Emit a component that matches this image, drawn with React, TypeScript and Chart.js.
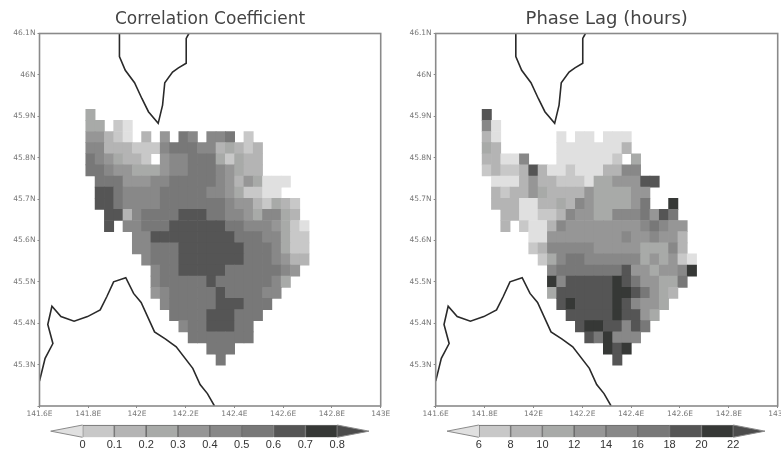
import React, { useEffect, useRef } from "react";
import { Chart, registerables } from "chart.js";

Chart.register(...registerables);

const _ = null;
const grays = ["#e0e0e0", "#c8c8c8", "#b4b4b4", "#a8aaa8", "#969696", "#888888", "#787878", "#555555", "#363836", "#4c4c4c"];

const lonTicks = [141.6, 141.8, 142, 142.2, 142.4, 142.6, 142.8, 143];
const latTicks = [45.2, 45.3, 45.4, 45.5, 45.6, 45.7, 45.8, 45.9, 46, 46.1];

const corrLevels = [0, 0.1, 0.2, 0.3, 0.4, 0.5, 0.6, 0.7, 0.8];
const phaseLevels = [6, 8, 10, 12, 14, 16, 18, 20, 22];

// Grid of the shaded cells, in degrees
const gridLon0 = 141.79;
const gridLonStep = 0.03817;
const gridLat0 = 45.917;
const gridLatStep = 0.02689;

const corrStarts = [0, 0, 0, 0, 0, 0, 1, 1, 1, 2, 2, 5, 5, 6, 7, 7, 7, 8, 9, 10, 11, 13, 14];
const corrRows = [
  [.25],
  [.25, .25, _, .05, -.05],
  [.35, .35, .15, .05, -.05, _, .15, _, .35, _, .55, .45, _, .45, .45, .55, _, .05],
  [.45, .45, .15, .15, .15, .05, .05, .05, .45, .55, .55, .55, .45, .45, .15, .25, .15, .05, .15],
  [.55, .45, .35, .25, .15, .15, .05, _, .35, .45, .45, .55, .55, .55, .25, .05, .25, .15, .15],
  [.55, .55, .45, .35, .35, .25, .25, .25, .35, .45, .45, .55, .55, .55, .45, .35, .25, .15, .15],
  [.55, .55, .55, .35, .35, .35, .45, .45, .55, .55, .55, .55, .55, .45, .35, .15, .35, .25, -.05, -.05, -.05],
  [.65, .65, .55, .45, .45, .45, .45, .55, .55, .55, .55, .55, .45, .45, .35, .25, .05, .05, -.05, -.05],
  [.65, .65, .55, .45, .45, .45, .45, .55, .55, .55, .55, .55, .55, .55, .45, .35, .35, .15, .05, .25, .15, .05],
  [.65, .65, .15, .45, .55, .55, .55, .55, .65, .65, .65, .55, .55, .45, .45, .35, .25, .45, .45, .25, .15],
  [.65, _, .45, .45, .55, .55, .55, .65, .65, .65, .65, .65, .65, .55, .55, .45, .45, .45, .35, .25, .05, -.05],
  [.45, .45, .65, .65, .65, .65, .65, .65, .65, .65, .65, .55, .55, .55, .45, .45, .25, .05, .05],
  [.45, .45, .55, .55, .55, .65, .65, .65, .65, .65, .65, .65, .55, .55, .55, .45, .25, .05, .05],
  [.45, .55, .55, .55, .65, .65, .65, .65, .65, .65, .65, .55, .55, .55, .45, .35, .15, .15],
  [.45, .55, .55, .65, .65, .65, .65, .65, .55, .55, .55, .55, .55, .55, .45, .35],
  [.45, .55, .55, .55, .55, .55, .65, .55, .55, .55, .55, .55, .55, .45, .25],
  [.35, .45, .55, .55, .55, .55, .55, .65, .55, .55, .55, .55, .45, .45],
  [.45, .55, .55, .55, .55, .55, .65, .65, .65, .55, .55, .55],
  [.55, .55, .55, .55, .65, .65, .65, .55, .55, .55],
  [.45, .55, .55, .65, .65, .65, .55, .55],
  [.55, .55, .55, .55, .55, .55, .55],
  [.55, .55, .55],
  [.55],
];

const phaseStarts = [0, 0, 0, 0, 0, 0, 1, 1, 1, 2, 2, 5, 5, 6, 7, 7, 7, 8, 9, 10, 11, 13, 14];
const phaseRows = [
  [19],
  [15, 5],
  [9, 5, _, _, _, _, _, _, 5, _, 5, 5, _, 5, 5, 5],
  [11, 9, _, _, _, _, _, _, 5, 5, 5, 5, 5, 5, 5, 9],
  [9, 9, 5, 5, 15, _, _, _, 5, 5, 5, 5, 5, 5, 7, _, 11],
  [7, 9, 7, 7, 9, 19, 9, 5, 5, 7, 5, 5, 5, 9, 9, 15, 15],
  [5, 5, 5, 9, 13, 9, 9, 7, 7, 7, 5, 11, 11, 13, 13, 13, 19, 19],
  [9, 7, 9, 9, 13, 11, 9, 9, 9, 9, 13, 11, 11, 11, 11, 13, 13],
  [9, 9, 9, 5, 5, 9, 9, 11, 9, 15, 13, 11, 11, 11, 11, 13, 17, _, _, 21],
  [9, 9, 5, 5, 7, 7, 9, 15, 13, 13, 11, 11, 15, 15, 15, 17, 13, 19, 17],
  [9, _, 7, 5, 5, 9, 15, 13, 13, 13, 13, 13, 13, 13, 13, 15, 17, 15, 13, 13],
  [5, 5, 13, 13, 13, 13, 13, 13, 13, 13, 15, 13, 13, 15, 13, 13, 9],
  [7, 9, 15, 15, 15, 15, 15, 13, 13, 13, 13, 13, 11, 11, 11, 15, 9],
  [7, 11, 15, 17, 17, 15, 15, 15, 15, 15, 15, 11, 13, 11, 13, 7, 5],
  [15, 17, 17, 17, 17, 17, 17, 17, 19, 13, 13, 11, 13, 13, 15, 21],
  [21, 15, 19, 19, 19, 19, 19, 21, 19, 17, 13, 13, 11, 11, 17],
  [11, 19, 19, 19, 19, 19, 19, 21, 21, 19, 17, 13, 11, 9],
  [19, 21, 19, 19, 19, 19, 21, 19, 15, 13, 13, 11],
  [19, 19, 19, 19, 19, 21, 19, 19, 13, 11],
  [19, 21, 21, 19, 19, 15, 19, 17],
  [19, 17, 21, 15, 15, 15],
  [21, 19, 21],
  [19],
];

const coastNorthLon = [141.928, 141.928, 141.952, 141.99, 142.02, 142.047, 142.087, 142.105, 142.114, 142.146, 142.17, 142.202, 142.202, 142.213];
const coastNorthLat = [46.1, 46.044, 46.011, 45.981, 45.943, 45.911, 45.883, 45.927, 45.981, 46.007, 46.017, 46.028, 46.088, 46.1];
const coastSouthLon = [141.6, 141.623, 141.655, 141.634, 141.651, 141.688, 141.742, 141.797, 141.849, 141.876, 141.904, 141.954, 141.986, 142.017, 142.072, 142.116, 142.161, 142.229, 142.259, 142.289, 142.318];
const coastSouthLat = [45.26, 45.315, 45.351, 45.397, 45.441, 45.416, 45.405, 45.416, 45.432, 45.464, 45.5, 45.51, 45.472, 45.45, 45.379, 45.362, 45.343, 45.291, 45.252, 45.23, 45.2];

const binColor = (v: number, levels: number[]) => {
  let i = 0;
  while (i < levels.length && v >= levels[i]) i++;
  return grays[i];
};

const cells = (rows: (number | null)[][], starts: number[]) => {
  const out: any[] = [];
  rows.forEach((row, r) => {
    row.forEach((v, k) => {
      if (v === null) return;
      const top = gridLat0 - r * gridLatStep;
      out.push({ x: gridLon0 + (starts[r] + k + 0.5) * gridLonStep, y: [top - gridLatStep, top], v });
    });
  });
  return out;
};

const zip = (xs: number[], ys: number[]) => xs.map((x, i) => ({ x, y: ys[i] }));

const frame = {
  id: "frame",
  afterDatasetsDraw(chart: any) {
    const { ctx, chartArea: a } = chart;
    ctx.save();
    ctx.strokeStyle = "#8a8a8a";
    ctx.lineWidth = 1.6;
    ctx.strokeRect(a.left, a.top, a.right - a.left, a.bottom - a.top);
    ctx.restore();
  },
};

const lonLabel = (v: number) => `${+v.toFixed(1)}E`;
const latLabel = (v: number) => (v < 45.25 ? "" : `${+v.toFixed(1)}N`);
const tickFont = { family: "DejaVu Sans", size: 7.5 };

function panelConfig(title: string, titleSize: number, rows: any[][], starts: number[], levels: number[], left: number, right: number): any {
  const coast = (data: any[]) => ({
    type: "line",
    data,
    order: 0,
    borderColor: "#2a2a2a",
    borderWidth: 1.6,
    pointRadius: 0,
    tension: 0,
    fill: false,
  });
  const titleHeight = titleSize * 1.2;
  return {
    type: "bar",
    data: {
      datasets: [
        {
          data: cells(rows, starts),
          order: 1,
          barThickness: 9.33,
          borderWidth: 0,
          backgroundColor: (c: any) => (c.raw ? binColor(c.raw.v, levels) : grays[0]),
        },
        coast(zip(coastNorthLon, coastNorthLat)),
        coast(zip(coastSouthLon, coastSouthLat)),
      ],
    },
    options: {
      animation: false,
      responsive: false,
      layout: { padding: { right } },
      plugins: {
        legend: { display: false },
        tooltip: { enabled: false },
        title: {
          display: true,
          text: title,
          fullSize: false,
          color: "#444444",
          font: { family: "DejaVu Sans", size: titleSize, weight: "normal", lineHeight: 1.2 },
          padding: { top: 19.5 - titleHeight / 2, bottom: 14 - titleHeight / 2 },
        },
      },
      scales: {
        x: {
          type: "linear",
          min: 141.6,
          max: 143,
          offset: false,
          grid: { offset: false, drawOnChartArea: false, tickLength: 2, color: "#888888" },
          border: { display: false },
          afterBuildTicks: (s: any) => { s.ticks = lonTicks.map((value) => ({ value })); },
          afterFit: (s: any) => { s.height = 14; s.paddingLeft = 0; s.paddingRight = 0; },
          ticks: { autoSkip: false, maxRotation: 0, padding: 2, color: "#777777", font: tickFont, callback: lonLabel },
        },
        y: {
          type: "linear",
          min: 45.2,
          max: 46.1,
          grid: { drawOnChartArea: false, tickLength: 2, color: "#888888" },
          border: { display: false },
          afterBuildTicks: (s: any) => { s.ticks = latTicks.map((value) => ({ value })); },
          afterFit: (s: any) => { s.width = left; s.paddingTop = 0; s.paddingBottom = 0; },
          ticks: { autoSkip: false, padding: 2, color: "#777777", font: tickFont, callback: latLabel },
        },
      },
    },
    plugins: [frame],
  };
}

function barConfig(levels: number[], left: number, right: number): any {
  const step = levels[1] - levels[0];
  const lo = levels[0];
  const hi = levels[levels.length - 1];
  const segs = levels.slice(0, -1).map((l) => ({ x: l + step / 2, y: [0, 1], c: binColor(l + step / 2, levels) }));
  const tip = (pts: any[], color: string) => ({
    type: "line",
    data: pts,
    backgroundColor: color,
    borderColor: "#8a8a8a",
    borderWidth: 1,
    pointRadius: 0,
    fill: "shape",
    clip: false,
  });
  return {
    type: "bar",
    data: {
      datasets: [
        tip([{ x: lo, y: 1 }, { x: lo - step, y: 0.5 }, { x: lo, y: 0 }], grays[0]),
        tip([{ x: hi, y: 1 }, { x: hi + step, y: 0.5 }, { x: hi, y: 0 }], grays[9]),
        {
          data: segs,
          barThickness: 31.7,
          borderWidth: 1,
          borderColor: "#6a6a6a",
          clip: false,
          backgroundColor: (c: any) => (c.raw ? c.raw.c : grays[0]),
        },
      ],
    },
    options: {
      animation: false,
      responsive: false,
      layout: { padding: { left, right, top: 7 } },
      plugins: { legend: { display: false }, tooltip: { enabled: false }, title: { display: false } },
      scales: {
        x: {
          type: "linear",
          min: lo - step,
          max: hi + step,
          offset: false,
          grid: { display: false, offset: false, drawTicks: false, tickLength: 0 },
          border: { display: false },
          afterBuildTicks: (s: any) => { s.ticks = levels.map((value) => ({ value })); },
          afterFit: (s: any) => { s.height = 12.7; s.paddingLeft = 0; s.paddingRight = 0; },
          ticks: {
            autoSkip: false,
            maxRotation: 0,
            padding: 1,
            color: "#333333",
            font: { family: "Liberation Sans", size: 11 },
            callback: (v: number) => `${+v.toFixed(1)}`,
          },
        },
        y: { type: "linear", min: 0, max: 1, display: false },
      },
    },
  };
}

function Canvas({ config, x, y, w, h }: any) {
  const ref = useRef<HTMLCanvasElement>(null);
  useEffect(() => {
    const chart = new Chart(ref.current as HTMLCanvasElement, config);
    return () => chart.destroy();
  }, []);
  return (
    <div style={{ position: "absolute", left: x, top: y, width: w, height: h }}>
      <canvas ref={ref} width={w} height={h} />
    </div>
  );
}

export default function App() {
  return (
    <div style={{ position: "fixed", left: 0, top: 0, width: 781, height: 450, overflow: "hidden", background: "#fff", filter: "blur(0.45px)" }}>
      <Canvas x={0} y={0} w={391} h={420} config={panelConfig("Correlation Coefficient", 17, corrRows, corrStarts, corrLevels, 39.5, 10.3)} />
      <Canvas x={391} y={0} w={390} h={420} config={panelConfig("Phase Lag (hours)", 18, phaseRows, phaseStarts, phaseLevels, 44.7, 3.3)} />
      <Canvas x={0} y={418} w={391} h={32} config={barConfig(corrLevels, 50.7, 22)} />
      <Canvas x={391} y={418} w={390} h={32} config={barConfig(phaseLevels, 56, 16)} />
    </div>
  );
}
